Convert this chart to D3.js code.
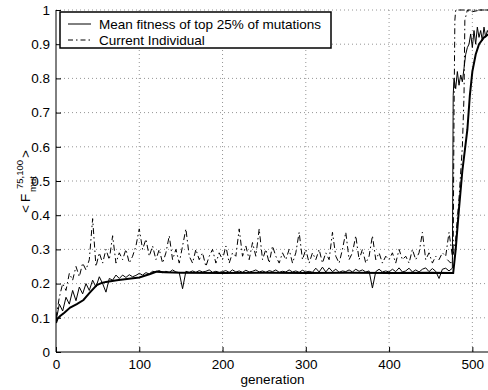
<!DOCTYPE html>
<html><head><meta charset="utf-8">
<script src="https://cdn.jsdelivr.net/npm/d3@7"></script>
<style>body{margin:0;background:#fff}svg{display:block}text{font-family:"Liberation Sans",Arial,Helvetica,sans-serif;fill:#000}</style>
</head><body><svg id="c" width="488" height="390"></svg>
<script>
// ---- data ----
const xTicks = [0,100,200,300,400,500];
const yTicks = [0,0.1,0.2,0.3,0.4,0.5,0.6,0.7,0.8,0.9,1];
const legendLabels = ["Mean fitness of top 25% of mutations","Current Individual"];
const noisyGen = d3.range(0, 480, 4);   // sampling grid, generations 0..476

const currentA = [
0.10,0.16,0.20,0.18,0.23,0.21,0.25,0.22,0.26,0.24,
0.27,0.39,0.25,0.29,0.26,0.30,0.27,0.34,0.26,0.29,
0.27,0.30,0.26,0.28,0.31,0.36,0.30,0.33,0.28,0.31,
0.27,0.30,0.26,0.29,0.34,0.27,0.30,0.26,0.31,0.36,
0.28,0.26,0.30,0.27,0.29,0.25,0.28,0.30,0.26,0.29,
0.27,0.31,0.26,0.29,0.28,0.36,0.28,0.31,0.27,0.32,
0.28,0.36,0.27,0.30,0.26,0.31,0.28,0.26,0.29,0.27,
0.30,0.26,0.29,0.35,0.27,0.30,0.26,0.29,0.27,0.30,
0.26,0.29,0.27,0.35,0.28,0.26,0.30,0.35,0.27,0.29,
0.34,0.27,0.30,0.26,0.28,0.34,0.27,0.29,0.26,0.28,
0.27,0.29,0.26,0.30,0.27,0.28,0.26,0.30,0.27,0.29,
0.35,0.27,0.29,0.26,0.28,0.27,0.29,0.28,0.35,0.28];
const tailGenA = [477,478,479,480,490,500,510,520];
const tailA    = [0.30,0.70,0.97,1.0,1.0,0.995,1.0,1.0];

const thinNoisy = [
0.09,0.14,0.12,0.16,0.14,0.18,0.15,0.19,0.17,0.20,
0.18,0.21,0.19,0.22,0.20,0.175,0.215,0.21,0.225,0.215,
0.225,0.218,0.226,0.22,0.224,0.23,0.225,0.232,0.228,0.236,
0.234,0.238,0.232,0.236,0.233,0.24,0.234,0.232,0.185,0.236,
0.233,0.237,0.233,0.238,0.234,0.236,0.24,0.233,0.236,0.233,
0.235,0.238,0.233,0.24,0.234,0.237,0.233,0.239,0.234,0.236,
0.24,0.234,0.237,0.233,0.238,0.235,0.24,0.233,0.236,0.234,
0.24,0.234,0.237,0.233,0.239,0.234,0.236,0.233,0.245,0.234,
0.248,0.234,0.246,0.235,0.242,0.233,0.237,0.235,0.24,0.234,
0.242,0.236,0.24,0.234,0.237,0.187,0.235,0.242,0.234,0.237,
0.234,0.242,0.235,0.246,0.234,0.237,0.245,0.234,0.24,0.234,
0.242,0.246,0.235,0.244,0.236,0.215,0.242,0.245,0.237,0.245];
const tailGenThin = [477,478,480,482,484,486,488,490,492,494,496,498,500,502,504,506,508,510,512,514,516,518,520];
const tailThin    = [0.75,0.80,0.77,0.82,0.78,0.81,0.79,0.83,0.87,0.89,0.90,0.93,0.89,0.94,0.90,0.95,0.92,0.94,0.91,0.95,0.92,0.94,0.93];

const genB = [470,474,476,480,484,488,490,491,494,505,520];
const currentB = [0.27,0.26,0.27,0.33,0.45,0.60,0.75,0.97,1.0,1.0,1.0];

const meanGen = [0,2,5,10,17,25,33,40,49,55,60,73,90,100,113,121,130,150,200,250,300,350,400,450,477,480,484,488,494,497,500,504,508,514,520];
const meanVal = [0.085,0.098,0.105,0.115,0.13,0.14,0.152,0.172,0.196,0.202,0.205,0.21,0.215,0.218,0.228,0.235,0.233,0.232,0.231,0.232,0.231,0.232,0.231,0.232,0.231,0.30,0.42,0.53,0.65,0.75,0.82,0.87,0.90,0.92,0.93];

// ---- drawing ----
const svg = d3.select("#c");
const x = d3.scaleLinear().domain([0,520]).range([56,489]);
const y = d3.scaleLinear().domain([0,1]).range([352,10]);
const pts = (g,v) => g.map((gg,i)=>[gg,v[i]]);
const line = d3.line().x(d=>x(d[0])).y(d=>y(d[1]));

svg.append("defs").append("clipPath").attr("id","clip")
  .append("rect").attr("x",56).attr("y",8).attr("width",433).attr("height",346);

// grid
const grid = svg.append("g");
grid.selectAll("line.gy").data(yTicks.filter(d=>d>0)).join("line")
  .attr("x1",56).attr("x2",489).attr("y1",d=>y(d)).attr("y2",d=>y(d))
  .attr("stroke","#7a7a7a").attr("stroke-width",0.8).attr("stroke-dasharray","1,3");
grid.selectAll("line.gx").data(xTicks.filter(d=>d>0)).join("line")
  .attr("y1",10).attr("y2",352).attr("x1",d=>x(d)).attr("x2",d=>x(d))
  .attr("stroke","#7a7a7a").attr("stroke-width",0.8).attr("stroke-dasharray","1,3");

const plot = svg.append("g").attr("clip-path","url(#clip)").attr("fill","none").attr("stroke","#000");
const dd = "6,3,1.5,3";
plot.append("path").attr("d",line(pts(genB,currentB)))
  .attr("stroke-width",1).attr("stroke-dasharray",dd);
plot.append("path").attr("d",line(pts(noisyGen,currentA).concat(pts(tailGenA,tailA))))
  .attr("stroke-width",1).attr("stroke-dasharray",dd);
plot.append("path").attr("d",line(pts(noisyGen,thinNoisy).concat(pts(tailGenThin,tailThin))))
  .attr("stroke-width",1);
plot.append("path").attr("d",line(pts(meanGen,meanVal)))
  .attr("stroke-width",2);

// axes (MATLAB style, inward ticks)
const xa = svg.append("g").attr("transform","translate(0,352)")
  .call(d3.axisBottom(x).tickValues(xTicks).tickSizeInner(-5).tickSizeOuter(0).tickPadding(7).tickFormat(d3.format("d")));
const ya = svg.append("g").attr("transform","translate(56,0)")
  .call(d3.axisLeft(y).tickValues(yTicks).tickSizeInner(-5).tickSizeOuter(0).tickPadding(6).tickFormat(d=>d===0||d===1?String(d):d3.format(".1f")(d)));
[xa,ya].forEach(a=>{
  a.select(".domain").attr("stroke","#000").attr("stroke-width",1);
  a.selectAll(".tick line").attr("stroke","#000");
  a.selectAll("text").attr("font-size",13.5).attr("font-family","Liberation Sans, Arial, sans-serif");
});
xa.select(".domain").attr("d","M56,0H489");
ya.select(".domain").attr("d","M0,10V352");

svg.append("text").attr("x",272.5).attr("y",384).attr("text-anchor","middle")
  .attr("font-size",13.5).text("generation");

// y label: < F^{75,100}_{mut} >
const yl = svg.append("g").attr("transform","translate(30,181) rotate(-90)");
yl.append("text").attr("x",-32).attr("y",0).attr("font-size",13.5).text("<");
yl.append("text").attr("x",-21).attr("y",0).attr("font-size",13.5).text("F");
yl.append("text").attr("x",-8).attr("y",-7).attr("font-size",9.5).text("75,100");
yl.append("text").attr("x",-11).attr("y",6).attr("font-size",9.5).text("mut");
yl.append("text").attr("x",23).attr("y",0).attr("font-size",13.5).text(">");

// legend
const lg = svg.append("g");
lg.append("rect").attr("x",60).attr("y",12).attr("width",271).attr("height",36)
  .attr("fill","#fff").attr("stroke","#000").attr("stroke-width",1.5);
const rows = [{lab:legendLabels[0],dash:null,yy:24},{lab:legendLabels[1],dash:"5,3,1.5,3",yy:40}];
rows.forEach(r=>{
  lg.append("line").attr("x1",68).attr("x2",91).attr("y1",r.yy).attr("y2",r.yy)
    .attr("stroke","#000").attr("stroke-width",1).attr("stroke-dasharray",r.dash);
  lg.append("text").attr("x",99).attr("y",r.yy+5).attr("font-size",13.5).text(r.lab);
});
</script></body></html>
